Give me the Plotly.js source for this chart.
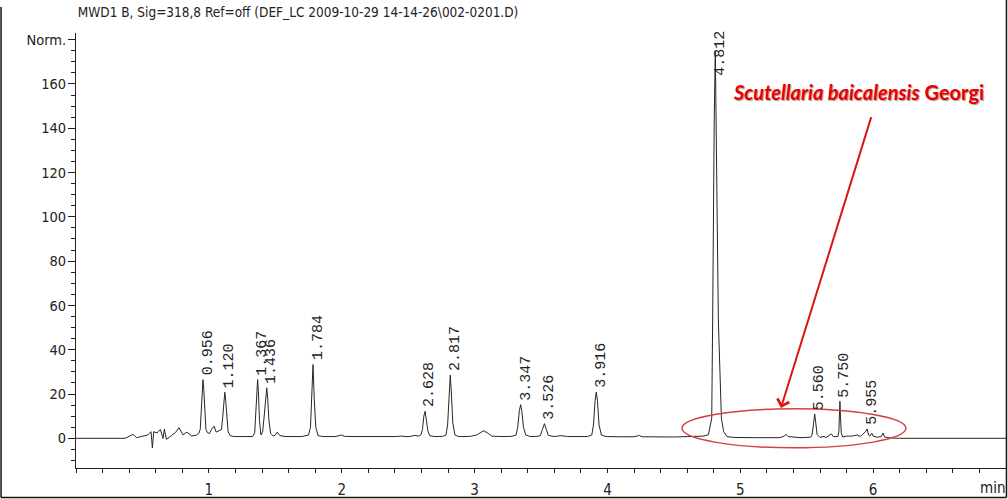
<!DOCTYPE html>
<html>
<head>
<meta charset="utf-8">
<script src="https://cdn.plot.ly/plotly-3.0.1.min.js"></script>
<style>
  html, body { margin: 0; padding: 0; background: #fff; }
  #chart { width: 1008px; height: 499px; }
</style>
</head>
<body>
<div id="chart"></div>
<script>
// Chromatogram signal (MWD1 B, 318 nm): retention time in minutes and detector response
const timeMin = [
  0.00, 0.37, 0.40, 0.43, 0.455, 0.49, 0.54, 0.565, 0.575, 0.585, 0.61, 0.635, 0.655, 0.665, 0.68,
  0.72, 0.75, 0.775, 0.805, 0.835, 0.87, 0.905, 0.925,
  0.935, 0.943, 0.950, 0.956, 0.962, 0.969, 0.978, 0.99,
  1.005, 1.02, 1.04, 1.055, 1.075,
  1.095, 1.105, 1.113, 1.120, 1.127, 1.135, 1.145, 1.16, 1.19, 1.25, 1.33,
  1.345, 1.355, 1.361, 1.367, 1.373, 1.381, 1.392,
  1.405, 1.418, 1.429, 1.436, 1.443, 1.452, 1.465, 1.485, 1.50, 1.515, 1.535, 1.58, 1.70,
  1.750, 1.765, 1.775, 1.784, 1.793, 1.805, 1.822, 1.86, 1.95, 2.00, 2.02, 2.10,
  2.40, 2.45, 2.50, 2.55, 2.58,
  2.595, 2.608, 2.618, 2.628, 2.637, 2.648, 2.662, 2.70, 2.76,
  2.785, 2.797, 2.807, 2.817, 2.826, 2.836, 2.852, 2.88, 2.97, 3.02, 3.05, 3.07, 3.095, 3.13, 3.20, 3.28,
  3.312, 3.325, 3.337, 3.347, 3.356, 3.368, 3.385, 3.42, 3.47,
  3.495, 3.51, 3.526, 3.54, 3.555, 3.60, 3.65, 3.70, 3.85,
  3.882, 3.895, 3.907, 3.916, 3.925, 3.937, 3.955, 3.99, 4.10, 4.20, 4.24, 4.26, 4.50, 4.65,
  4.72, 4.76, 4.785, 4.792, 4.797, 4.804, 4.812, 4.818, 4.826, 4.835, 4.858, 4.875, 4.90, 4.95,
  5.10, 5.30, 5.33, 5.345, 5.36, 5.45, 5.53,
  5.54, 5.55, 5.56, 5.568, 5.578, 5.60, 5.63, 5.645, 5.665, 5.685, 5.70, 5.735,
  5.742, 5.746, 5.750, 5.754, 5.76, 5.77, 5.80, 5.84, 5.88, 5.905, 5.93,
  5.945, 5.955, 5.965, 5.975, 5.99, 6.00, 6.03, 6.06, 6.075, 6.085, 6.12, 6.20, 7.00
];
const response = [
  0.0, 0.0, 0.9, 1.8, 0.3, 0.9, 1.5, 3.0, -4.3, 3.0, 2.4, 4.0, -0.1, 4.1, -0.5,
  1.3, 2.7, 4.8, 1.6, 2.8, 1.1, 1.4, 2.3,
  4.0, 12.0, 23.0, 26.5, 22.0, 11.0, 4.0, 2.5,
  2.2, 4.0, 5.5, 2.8, 3.5,
  4.0, 10.0, 18.0, 20.8, 17.0, 9.0, 3.0, 1.2, 0.8, 0.8, 0.8,
  2.5, 12.0, 22.0, 26.5, 21.0, 8.0, 1.5,
  3.0, 11.0, 20.0, 22.8, 18.0, 8.0, 2.2, 1.0, 1.5, 2.8, 1.2, 0.8, 0.8,
  1.5, 5.0, 18.0, 33.3, 18.0, 5.0, 1.2, 0.8, 0.8, 1.5, 0.9, 0.8,
  0.8, 1.0, 0.7, 1.3, 1.0,
  1.5, 4.0, 10.0, 12.2, 9.0, 3.5, 1.2, 0.8, 0.9,
  1.5, 6.0, 20.0, 28.5, 20.0, 7.0, 1.5, 0.8, 0.9, 1.6, 2.8, 3.4, 2.5, 1.0, 0.8, 0.9,
  1.5, 5.0, 12.5, 15.2, 12.0, 5.0, 1.5, 0.8, 0.9,
  1.2, 4.0, 6.6, 4.0, 1.3, 0.8, 1.2, 0.8, 0.8,
  1.5, 6.0, 17.0, 20.9, 17.0, 6.0, 1.5, 0.8, 0.7, 0.7, 1.3, 0.7, 0.6, 0.8,
  1.0, 1.6, 9.0, 53.0, 96.0, 145.0, 175.0, 145.0, 96.0, 53.0, 9.0, 3.0, 0.8, 0.4,
  0.3, 0.3, 1.0, 1.8, 0.8, 0.3, 0.5,
  1.5, 6.0, 11.0, 7.0, 1.8, 0.4, 0.9, 0.3, 1.0, 2.0, 0.8, 0.8,
  3.0, 10.0, 16.7, 10.0, 2.5, 0.6, 1.0, 1.0, 1.5, 0.8, 2.2,
  3.2, 4.2, 1.5, 1.0, 2.3, 1.0, 0.5, 0.8, 2.4, 0.6, 0.2, 0.0, 0.0
];

// Integrated peaks: retention-time labels and apex heights
const peakLabels  = ['0.956', '1.120', '1.367', '1.436', '1.784', '2.628', '2.817',
                     '3.347', '3.526', '3.916', '4.812', '5.560', '5.750', '5.955'];
const peakTimes   = [0.956, 1.120, 1.367, 1.436, 1.784, 2.628, 2.817,
                     3.347, 3.526, 3.916, 4.812, 5.560, 5.750, 5.955];
const peakHeights = [26.5, 20.8, 26.5, 22.8, 33.3, 12.2, 28.5,
                     15.2, 6.6, 20.9, 175.0, 11.0, 16.7, 4.2];

// Axis ticks
const yTickVals = [0, 20, 40, 60, 80, 100, 120, 140, 160, 180];
const yTickText = ['0', '20', '40', '60', '80', '100', '120', '140', '160', 'Norm.'];
const xTickVals = [1, 2, 3, 4, 5, 6];
const xTickText = ['1', '2', '3', '4', '5', '6'];

const narrow = '"Liberation Sans Narrow", "DejaVu Sans Condensed", Arial, sans-serif';
const axisColor = '#222';

const trace = {
  x: timeMin,
  y: response,
  type: 'scatter',
  mode: 'lines',
  line: { color: '#262626', width: 1 },
  hoverinfo: 'x+y'
};

// Rotated retention-time labels above each peak
const peakAnnotations = peakLabels.map((lbl, i) => {
  const tall = peakHeights[i] > 150;
  return {
    x: peakTimes[i],
    y: tall ? 1 : peakHeights[i],
    xref: 'x',
    yref: tall ? 'paper' : 'y',
    text: lbl,
    showarrow: false,
    textangle: -90,
    xanchor: 'center',
    yanchor: tall ? 'top' : 'bottom',
    xshift: 5,
    yshift: 3,
    borderpad: 0,
    font: { family: '"Liberation Mono", "DejaVu Sans Mono", monospace', size: 15, color: '#222' }
  };
});

const layout = {
  width: 1008,
  height: 499,
  margin: { l: 76, r: 2, t: 33, b: 31, pad: 0 },
  paper_bgcolor: '#fff',
  plot_bgcolor: '#fff',
  showlegend: false,
  title: {
    text: 'MWD1 B, Sig=318,8 Ref=off (DEF_LC 2009-10-29 14-14-26\\002-0201.D)',
    font: { family: narrow, size: 13.5, color: '#222' },
    xref: 'paper', x: 0.002, xanchor: 'left',
    yref: 'container', y: 0.976, yanchor: 'middle'
  },
  xaxis: {
    range: [0, 7.0],
    showgrid: false, zeroline: false,
    showline: true, linecolor: axisColor, linewidth: 1,
    tickmode: 'array', tickvals: xTickVals, ticktext: xTickText,
    ticks: 'outside', ticklen: 4, tickcolor: axisColor, tickwidth: 1,
    ticklabelstandoff: 4,
    minor: { tickmode: 'linear', tick0: 0, dtick: 0.2, ticks: 'outside', ticklen: 4, tickcolor: axisColor, showgrid: false },
    tickfont: { family: narrow, size: 15, color: '#222' },
    title: { text: '' }
  },
  yaxis: {
    range: [-13.4, 183],
    showgrid: false, zeroline: false,
    showline: true, linecolor: axisColor, linewidth: 1,
    tickmode: 'array', tickvals: yTickVals, ticktext: yTickText,
    ticks: 'outside', ticklen: 7, tickcolor: axisColor, tickwidth: 1,
    ticklabelstandoff: -1,
    minor: { tickmode: 'linear', tick0: 0, dtick: 5, ticks: 'outside', ticklen: 4, tickcolor: axisColor, showgrid: false },
    tickfont: { family: narrow, size: 14.5, color: '#222' },
    title: { text: '' }
  },
  shapes: [
    // highlight ellipse around the late-eluting region
    { type: 'circle', xref: 'x', yref: 'y', x0: 4.561, x1: 6.247, y0: -4.3, y1: 13.3,
      line: { color: 'rgb(214,64,64)', width: 1.5 }, fillcolor: 'rgba(0,0,0,0)' },
    // outer frame
    { type: 'line', xref: 'paper', yref: 'paper', x0: -0.0806, x1: -0.0806, y0: -0.0678, y1: 1.06,
      line: { color: '#111', width: 1.5 } },
    { type: 'line', xref: 'paper', yref: 'paper', x0: -0.0806, x1: 1.0005, y0: -0.0678, y1: -0.0678,
      line: { color: '#111', width: 1.5 } },
    { type: 'line', xref: 'paper', yref: 'paper', x0: 1.0005, x1: 1.0005, y0: -0.0678, y1: 1.076,
      line: { color: '#111', width: 1.5 } }
  ],
  annotations: peakAnnotations.concat([
    // arrow pointing into the ellipse
    { x: 5.306, y: 13.7, xref: 'x', yref: 'y', ax: 5.989, ay: 145.7, axref: 'x', ayref: 'y',
      text: '', showarrow: true, arrowhead: 4, arrowsize: 1.2, arrowwidth: 2, arrowcolor: 'rgb(220,20,20)' },
    // species name
    { x: 5.893, y: 156.5, xref: 'x', yref: 'y', showarrow: false,
      xanchor: 'center', yanchor: 'middle',
      text: '<b><i>Scutellaria baicalensis</i> Georgi</b>',
      font: { family: 'Lato, "Open Sans", sans-serif', size: 20, color: 'rgb(230,0,0)',
              shadow: '1px 1px 1px rgba(90,0,0,0.45)' } },
    // time-axis unit
    { x: 1.0, y: -0.046, xref: 'paper', yref: 'paper', showarrow: false,
      xanchor: 'right', yanchor: 'middle', text: 'min', borderpad: 0,
      font: { family: narrow, size: 15, color: '#222' } }
  ])
};

Plotly.newPlot('chart', [trace], layout, { displayModeBar: false, staticPlot: true });
</script>
</body>
</html>
